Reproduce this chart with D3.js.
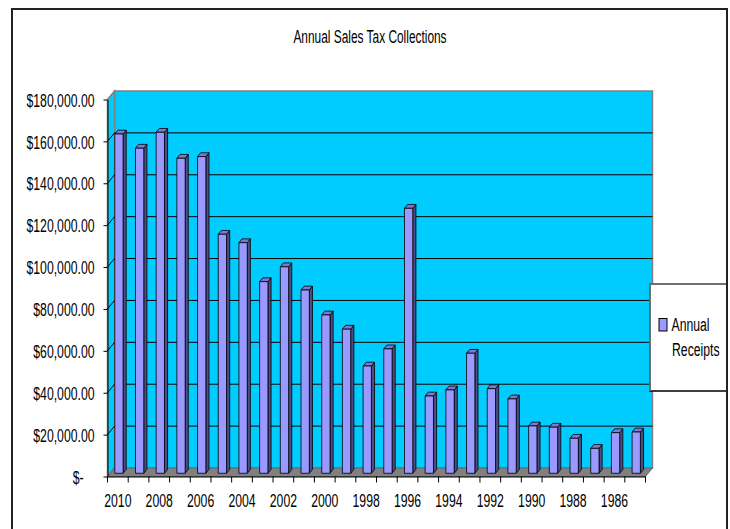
<!DOCTYPE html>
<html>
<head>
<meta charset="utf-8">
<script src="https://cdn.jsdelivr.net/npm/d3@7"></script>
<style>
  body { margin: 0; background: #fff; }
  text { font-family: "Liberation Sans", Arial, sans-serif; fill: #000; }
</style>
</head>
<body>
<svg id="chart" width="730" height="529"></svg>
<script>
// data
const years = [2010, 2009, 2008, 2007, 2006, 2005, 2004, 2003, 2002, 2001, 2000, 1999, 1998,
               1997, 1996, 1995, 1994, 1993, 1992, 1991, 1990, 1989, 1988, 1987, 1986, 1985];
const receipts = [162000, 155200, 162800, 150400, 151200, 114100, 110100, 91500, 98600, 87500,
                  75600, 68800, 51200, 59400, 126500, 36900, 39800, 57300, 40400, 35500,
                  22600, 22000, 16700, 11900, 19400, 19700];
const yTicks = [0, 20000, 40000, 60000, 80000, 100000, 120000, 140000, 160000, 180000];
const yearLabels = [2010, 2008, 2006, 2004, 2002, 2000, 1998, 1996, 1994, 1992, 1990, 1988, 1986];
const seriesName = ["Annual", "Receipts"];
const chartTitle = "Annual Sales Tax Collections";

// layout (front plane of the 3d box + depth offset)
const FX0 = 107.5, FX1 = 645.5, FY0 = 476.5, FY1 = 99.5;
const DX = 7, DY = -8.5;
const SX = 0.68; // squeeze text like excel does

const svg = d3.select("#chart");

let x = d3.scaleBand().domain(years).range([FX0, FX1]);
let y = d3.scaleLinear().domain([0, 180000]).range([FY0, FY1]);

function label(g, txt, tx, ty, anchor, size){
  return g.append("text")
    .attr("transform", `translate(${tx},${ty}) scale(${SX},1)`)
    .attr("text-anchor", anchor)
    .style("font-size", (size || 18) + "px")
    .text(txt);
}

// title
label(svg, chartTitle, 370, 43, "middle", 17.5);

// back wall
svg.append("rect")
  .attr("x", FX0 + DX).attr("y", y(180000) + DY)
  .attr("width", FX1 - FX0).attr("height", y(0) - y(180000))
  .attr("fill", "#00CCFF").attr("stroke", "#808080").attr("stroke-width", 1.5);

// left side wall
svg.append("polygon")
  .attr("points", [[FX0, y(0)], [FX0, y(180000)], [FX0 + DX, y(180000) + DY], [FX0 + DX, y(0) + DY]].join(" "))
  .attr("fill", "#00CCFF").attr("stroke", "#808080").attr("stroke-width", 1.5);

// floor
svg.append("polygon")
  .attr("points", [[FX0, y(0)], [FX1, y(0)], [FX1 + DX, y(0) + DY], [FX0 + DX, y(0) + DY]].join(" "))
  .attr("fill", "#808080").attr("stroke", "#666").attr("stroke-width", 1);

// gridlines on back and side wall
let inner = yTicks.filter(v => v > 0 && v < 180000);
svg.append("g").selectAll("line.bg")
  .data(inner).enter().append("line")
  .attr("x1", FX0 + DX).attr("x2", FX1 + DX)
  .attr("y1", d => y(d) + DY).attr("y2", d => y(d) + DY)
  .attr("stroke", "#000").attr("stroke-width", 1);
svg.append("g").selectAll("line.sg")
  .data(inner).enter().append("line")
  .attr("x1", FX0).attr("x2", FX0 + DX)
  .attr("y1", d => y(d)).attr("y2", d => y(d) + DY)
  .attr("stroke", "#000").attr("stroke-width", 1);

// bars (front face, side, top)
const depthPos = 0.38, depthSize = 0.45, barW = 8.3;
const ox = DX * depthPos, oy = DY * depthPos;
const sx = DX * depthSize, sy = DY * depthSize;
let bars = years.map((yr, i) => {
  let left = x(yr) + ox + (x.bandwidth() - barW - sx) / 2;
  return { left: left, top: y(receipts[i]) + oy, bottom: y(0) + oy };
});

let bg = svg.append("g").attr("stroke", "#000").attr("stroke-width", 0.8).attr("stroke-linejoin", "round");
bg.selectAll("polygon.side").data(bars).enter().append("polygon")
  .attr("points", d => [[d.left + barW, d.top], [d.left + barW + sx, d.top + sy],
                        [d.left + barW + sx, d.bottom + sy], [d.left + barW, d.bottom]].join(" "))
  .attr("fill", "#4d4d85");
bg.selectAll("polygon.top").data(bars).enter().append("polygon")
  .attr("points", d => [[d.left, d.top], [d.left + barW, d.top],
                        [d.left + barW + sx, d.top + sy], [d.left + sx, d.top + sy]].join(" "))
  .attr("fill", "#7a7ad0");
bg.selectAll("rect").data(bars).enter().append("rect")
  .attr("x", d => d.left).attr("y", d => d.top)
  .attr("width", barW).attr("height", d => d.bottom - d.top)
  .attr("fill", "#9999FF");

// y axis
let yAxis = d3.axisLeft(y).tickValues(yTicks).tickSizeInner(4).tickSizeOuter(0)
  .tickFormat(d => d === 0 ? "$-" : d3.format("$,.2f")(d));
let yg = svg.append("g").attr("transform", `translate(${FX0},0)`).call(yAxis);
yg.select(".domain").attr("stroke", "#000");
yg.selectAll(".tick line").attr("stroke", "#000");
yg.selectAll(".tick text")
  .attr("x", null).attr("dy", null)
  .attr("fill", "#000")
  .style("font-size", "18px")
  .style("font-family", '"Liberation Sans", Arial, sans-serif')
  .attr("transform", d => `translate(${d === 0 ? -24 : -13},6.7) scale(${SX},1)`);

// x axis: labels every other year, ticks on band edges
let xAxis = d3.axisBottom(x).tickValues(yearLabels).tickSize(0).tickSizeOuter(0);
let xg = svg.append("g").attr("transform", `translate(0,${FY0})`).call(xAxis);
xg.select(".domain").attr("stroke", "#000");
xg.selectAll(".tick text")
  .attr("y", null).attr("dy", null)
  .attr("fill", "#000")
  .style("font-size", "18px")
  .style("font-family", '"Liberation Sans", Arial, sans-serif')
  .attr("transform", `translate(0,30.2) scale(${SX},1)`);
let edges = years.map(yr => x(yr)).concat([FX1]);
svg.append("g").selectAll("line").data(edges).enter().append("line")
  .attr("x1", d => d).attr("x2", d => d)
  .attr("y1", FY0).attr("y2", FY0 + 6)
  .attr("stroke", "#000");

// legend
let lg = svg.append("g");
lg.append("rect").attr("x", 650).attr("y", 284).attr("width", 77).attr("height", 107)
  .attr("fill", "#fff").attr("stroke", "#000").attr("stroke-width", 1.5);
lg.append("path").attr("d", "M650,391 L650,284 L727,284")
  .attr("fill", "none").attr("stroke", "#808080").attr("stroke-width", 1.5);
lg.append("rect").attr("x", 659).attr("y", 318.5).attr("width", 8).attr("height", 12.5)
  .attr("fill", "#9999FF").attr("stroke", "#000").attr("stroke-width", 1);
label(lg, seriesName[0], 671.5, 331, "start");
label(lg, seriesName[1], 672, 356, "start");

// outer chart border
svg.append("rect").attr("x", 12).attr("y", 9).attr("width", 715).attr("height", 530)
  .attr("fill", "none").attr("stroke", "#222").attr("stroke-width", 2);
</script>
</body>
</html>
